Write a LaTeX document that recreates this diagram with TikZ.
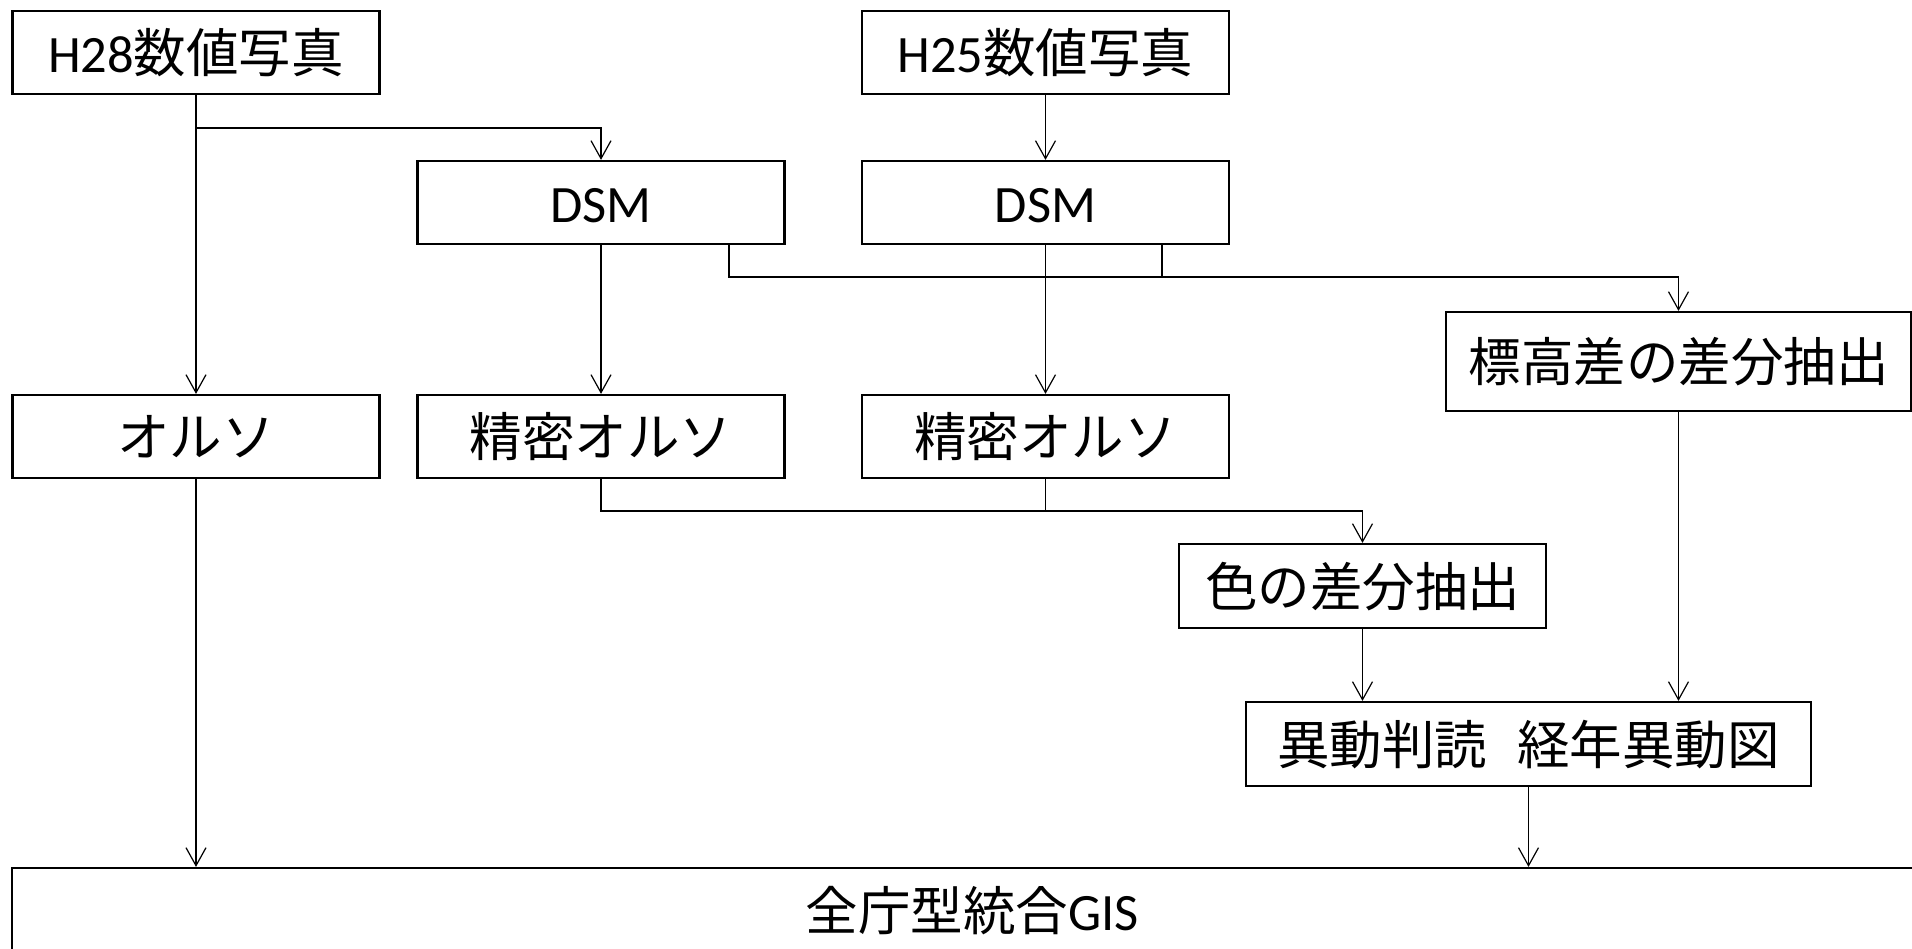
\documentclass[tikz,border=0pt]{standalone}
\usepackage{fontspec}
\setmainfont{Carlito}
\newfontfamily\jp{Noto Sans CJK JP}
\usetikzlibrary{arrows.meta,calc}
\begin{document}
\begin{tikzpicture}[x=1pt,y=-1pt,
  box/.style={draw,line width=2.2pt,minimum width=367pt,minimum height=83pt,inner sep=0pt,
    font=\fontsize{52.5}{62}\selectfont,text height=46pt,text depth=6pt,align=center},
  conn/.style={line width=1.2pt},
  arr/.style={conn,-{Straight Barb[length=18pt,width=20pt,line width=1.2pt]}}]
\useasboundingbox (0,0) rectangle (1912,948);
\clip (0,0) rectangle (1912,948);
\node[box] (h28) at (196,52.5) {H28{\jp 数値写真}};
\node[box] (h25) at (1045.5,52.5) {H25{\jp 数値写真}};
\node[box] (dsm1) at (601,202.5) {DSM};
\node[box] (dsm2) at (1045.5,202.5) {DSM};
\node[box,minimum width=465pt,minimum height=99pt] (hyo) at (1678.5,361.5) {\jp 標高差の差分抽出};
\node[box] (ortho) at (196,436.5) {\jp オルソ};
\node[box] (sei1) at (601,436.5) {\jp 精密オルソ};
\node[box] (sei2) at (1045.5,436.5) {\jp 精密オルソ};
\node[box,minimum height=84pt] (iro) at (1362.5,586) {\jp 色の差分抽出};
\node[box,minimum width=565pt,minimum height=84pt] (ido) at (1528.5,744) {\jp 異動判読\hspace{30pt}経年異動図};
\node[box,minimum width=1920pt,minimum height=84pt] (gis) at (972,910) {{\jp 全庁型統合}GIS};
\coordinate (by) at (0,128);
\coordinate (j1) at (729,277);
\coordinate (j2) at (1162,277);
\coordinate (ky) at (0,511);
\draw[arr] (h28.south) -- (ortho.north);
\draw[arr] (h28.south |- by) -| (dsm1.north);
\draw[arr] (h25.south) -- (dsm2.north);
\draw[arr] (dsm1.south) -- (sei1.north);
\draw[arr] (dsm2.south) -- (sei2.north);
\draw[arr] (dsm1.south -| j1) -- (j1) -| (hyo.north);
\draw[conn] (dsm2.south -| j2) -- (j2);
\draw[arr] (sei1.south) -- (sei1.south |- ky) -| (iro.north);
\draw[conn] (sei2.south) -- (sei2.south |- ky);
\draw[arr] (iro.south) -- (iro.south |- ido.north);
\draw[arr] (hyo.south) -- (hyo.south |- ido.north);
\draw[arr] (ortho.south) -- (ortho.south |- gis.north);
\draw[arr] (ido.south) -- (ido.south |- gis.north);
\end{tikzpicture}
\end{document}
